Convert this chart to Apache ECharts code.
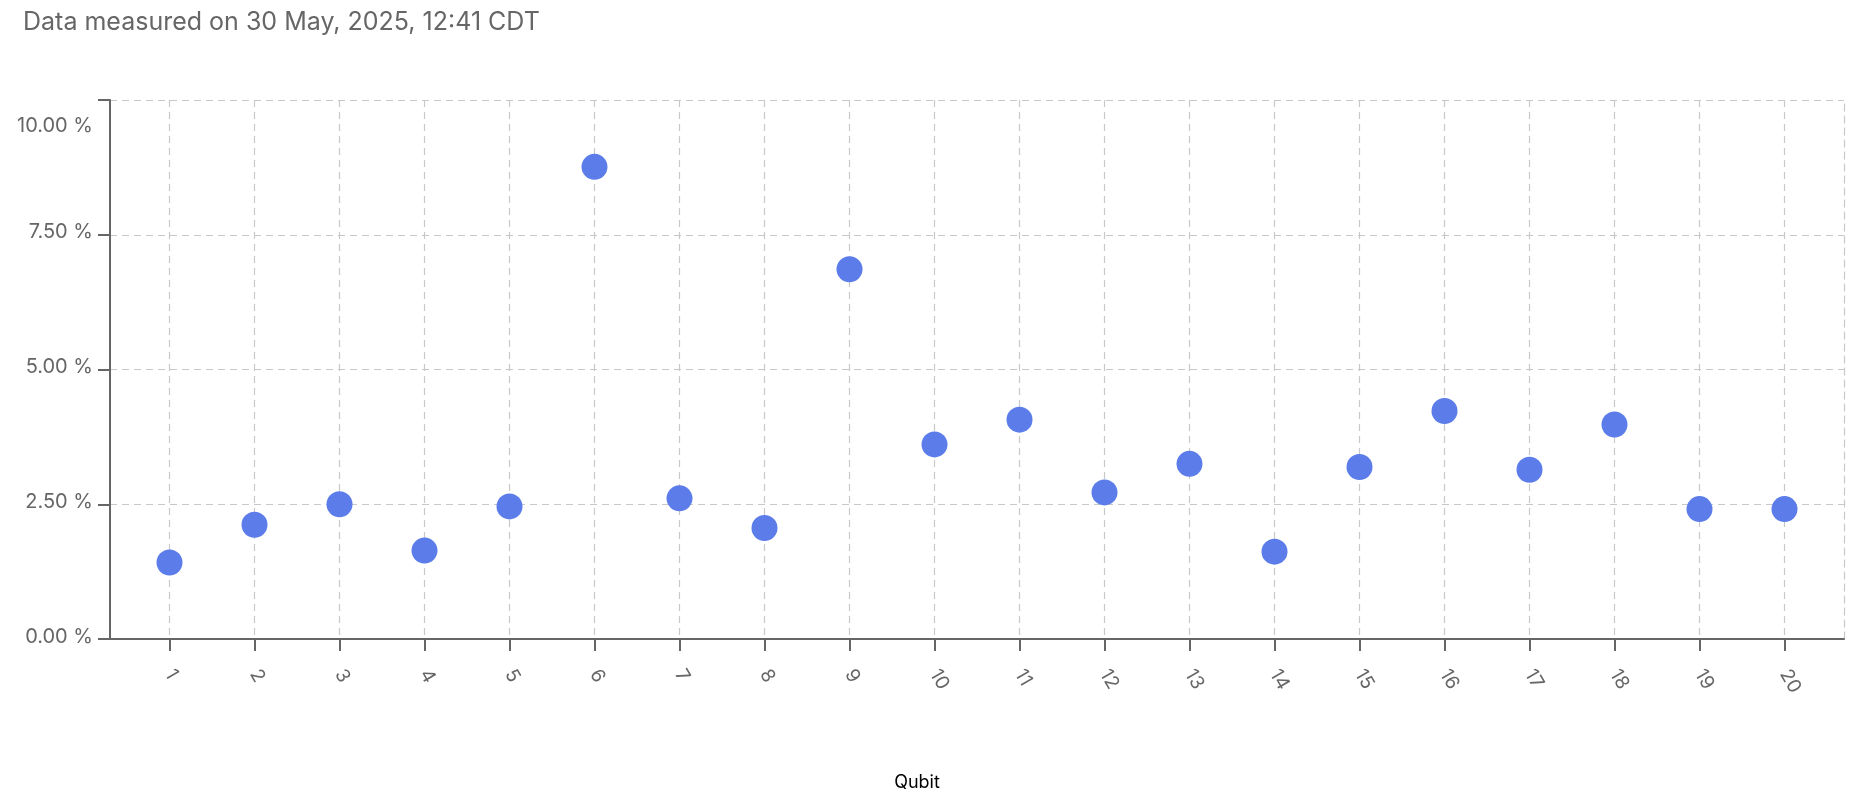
<!DOCTYPE html>
<html>
<head>
<meta charset="utf-8">
<script src="https://cdn.jsdelivr.net/npm/echarts@6/dist/echarts.min.js"></script>
<style>
  html, body { margin: 0; padding: 0; background: #fff; }
  #main { width: 1868px; height: 802px; }
</style>
</head>
<body>
<div id="main"></div>
<script>
// qubit numbers on the x axis
var qubits = [1, 2, 3, 4, 5, 6, 7, 8, 9, 10, 11, 12, 13, 14, 15, 16, 17, 18, 19, 20];
// error values in %
var errorRates = [1.42, 2.12, 2.50, 1.64, 2.46, 8.76, 2.61, 2.06, 6.86, 3.61,
                  4.07, 2.72, 3.25, 1.62, 3.19, 4.23, 3.14, 3.98, 2.41, 2.41];
// y axis ticks
var yTicks = [0, 2.5, 5, 7.5, 10];

var fontFamily = 'Inter, "Liberation Sans", sans-serif';
var gridLine = { color: '#c8c8c8', type: [7, 5], width: 1.2 };

var points = [];
for (var i = 0; i < qubits.length; i++) {
    points.push([qubits[i], errorRates[i]]);
}

var myChart = echarts.init(document.getElementById('main'));
var option = {
    animation: false,
    textStyle: { fontFamily: fontFamily },
    title: {
        text: 'Data measured on 30 May, 2025, 12:41 CDT',
        left: 18,
        top: 5,
        textStyle: { fontSize: 25, fontWeight: 'normal', color: '#666', fontFamily: fontFamily }
    },
    grid: { left: 110, right: 24, top: 100, bottom: 163 },
    xAxis: {
        type: 'value',
        min: 0.3,
        max: 20.7,
        name: 'Qubit',
        nameLocation: 'middle',
        nameGap: 135,
        nameTextStyle: { color: '#000', fontSize: 18, padding: [0, 120, 0, 0] },
        axisLine: { lineStyle: { color: '#666', width: 2 } },
        axisTick: { show: true, length: 12, lineStyle: { color: '#666', width: 2 }, customValues: qubits },
        axisLabel: {
            customValues: qubits,
            rotate: -60,
            margin: 32,
            color: '#666',
            fontSize: 19
        },
        splitLine: { show: true, lineStyle: gridLine }
    },
    yAxis: [
        {
            type: 'value',
            min: yTicks[0],
            max: yTicks[yTicks.length - 1],
            interval: 2.5,
            axisLine: { show: true, lineStyle: { color: '#666', width: 2 } },
            axisTick: { show: true, length: 12, lineStyle: { color: '#666', width: 2 } },
            axisLabel: {
                color: '#666',
                fontSize: 20,
                margin: 17,
                verticalAlignMaxLabel: 'top',
                formatter: function (v) {
                    var s = v.toFixed(2) + ' %';
                    return v === yTicks[yTicks.length - 1] ? '{top|' + s + '}' : '{n|' + s + '}';
                },
                rich: {
                    top: { color: '#666', fontSize: 20, padding: [16, 0, 0, 0] },
                    n: { color: '#666', fontSize: 20, padding: [0, 0, 5, 0] }
                }
            },
            splitLine: { show: true, lineStyle: gridLine }
        },
        {
            // right edge of the plot, dashed like the grid
            type: 'value',
            position: 'right',
            min: yTicks[0],
            max: yTicks[yTicks.length - 1],
            interval: 2.5,
            axisLine: { show: true, lineStyle: gridLine },
            axisTick: { show: false },
            axisLabel: { show: false },
            splitLine: { show: false }
        }
    ],
    series: [
        {
            name: 'Error',
            type: 'scatter',
            symbolSize: 26,
            itemStyle: { color: '#5b7ce9', opacity: 1 },
            data: points
        }
    ]
};
myChart.setOption(option);
</script>
</body>
</html>
